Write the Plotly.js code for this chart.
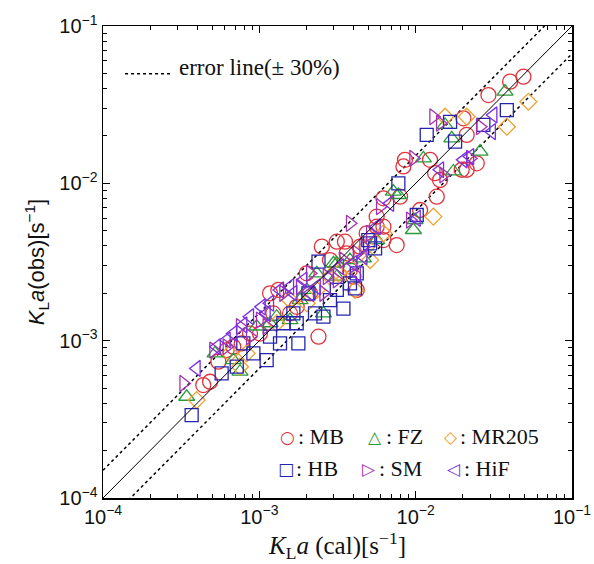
<!DOCTYPE html>
<html>
<head>
<meta charset="utf-8">
<script src="https://cdn.plot.ly/plotly-3.0.1.min.js"></script>
<style>html,body{margin:0;padding:0;background:#fff;}</style>
</head>
<body>
<div id="chart" style="width:594px;height:564px;"></div>
<script>
// ---- data (KLa cal, KLa obs) ----
const mbX = [4.89e-2,4.02e-2,2.92e-2,2.02e-2,2.12e-2,8.55e-3,8.35e-3,1.236e-2,1.331e-2,1.432e-2,2.12e-2,2.46e-2,1.971e-2,6.22e-3,7.95e-3,1.364e-2,1.067e-2,5.63e-3,7.56e-3,2.51e-3,3.13e-3,3.53e-3,4.41e-3,4.20e-3,1.171e-3,1.323e-3,2.39e-3,2.01e-3,6.82e-4,6.18e-4,4.84e-4,4.38e-4,8.72e-4,1.572e-3,3.80e-3,6.22e-3,
  2.83e-3,3.62e-3,4.86e-3,5.63e-3,2.11e-3,1.734e-3,1.01e-3,1.229e-3,4.00e-3,6.22e-3,7.71e-4,5.47e-4];
const mbY = [4.76e-2,4.43e-2,3.64e-2,2.59e-2,2.03e-2,1.41e-2,1.28e-2,1.41e-2,1.16e-2,1.05e-2,1.22e-2,1.34e-2,1.22e-2,8.03e-3,8.23e-3,8.23e-3,6.77e-3,6.14e-3,4.05e-3,3.96e-3,4.26e-3,4.26e-3,3.96e-3,2.10e-3,2.00e-3,2.10e-3,1.06e-3,2.68e-3,9.15e-4,8.72e-4,5.48e-4,5.22e-4,1.11e-3,1.49e-3,2.81e-3,5.30e-3,
  3.25e-3,3.59e-3,4.81e-3,5.30e-3,2.00e-3,1.64e-3,1.11e-3,1.49e-3,2.55e-3,4.36e-3,9.61e-4,7.35e-4];

const fzX = [3.73e-2,1.542e-2,1.701e-2,2.58e-2,1.743e-2,1.121e-2,7.75e-3,7.20e-3,9.67e-3,9.91e-3,3.13e-3,2.98e-3,2.57e-3,9.62e-4,5.21e-4,3.43e-4,7.52e-4,1.572e-3,2.33e-3,4.63e-3,1.171e-3,2.01e-3,
  3.80e-3,1.821e-3,1.291e-3,5.63e-3,6.82e-4,3.13e-3];
const fzY = [3.83e-2,2.35e-2,1.93e-2,1.59e-2,1.19e-2,1.44e-2,8.43e-3,8.85e-3,5.05e-3,5.84e-3,3.10e-3,3.10e-3,1.49e-3,1.23e-3,8.30e-4,4.40e-4,6.35e-4,1.35e-3,2.68e-3,3.33e-3,1.29e-3,2.10e-3,
  3.25e-3,1.81e-3,1.42e-3,4.36e-3,7.53e-4,2.55e-3];

const mrX = [5.26e-2,3.83e-2,1.542e-2,2.12e-2,1.298e-2,5.11e-3,3.20e-3,8.30e-4,7.52e-4,3.97e-4,1.572e-3,4.09e-3,6.22e-3,2.01e-3,3.80e-3,2.83e-3,
  2.33e-3,1.291e-3,4.86e-3,6.49e-4];
const mrY = [3.30e-2,2.29e-2,2.65e-2,2.65e-2,6.14e-3,3.25e-3,2.68e-3,8.30e-4,6.83e-4,4.19e-4,1.81e-3,2.10e-3,4.81e-3,1.73e-3,2.95e-3,2.55e-3,
  2.10e-3,1.29e-3,3.96e-3,8.30e-4];

const hbX = [3.83e-2,2.71e-2,1.660e-2,1.177e-2,1.787e-2,7.75e-3,1.016e-2,4.98e-3,5.50e-3,2.39e-3,4.09e-3,3.45e-3,2.27e-3,2.57e-3,1.734e-3,1.424e-3,1.777e-3,1.114e-3,7.90e-4,7.17e-4,5.74e-4,3.69e-4,1.356e-3,3.80e-3,2.06e-3,
  3.13e-3,1.651e-3,1.171e-3,2.83e-3,5.11e-3,9.16e-4,4.20e-3];
const hbY = [2.92e-2,2.35e-2,2.46e-2,2.03e-2,1.84e-2,1.00e-2,6.29e-3,4.36e-3,3.86e-3,3.18e-3,2.15e-3,1.60e-3,1.49e-3,1.42e-3,1.29e-3,1.29e-3,9.61e-4,7.53e-4,9.61e-4,6.83e-4,6.19e-4,3.36e-4,9.61e-4,2.31e-3,2.00e-3,
  2.10e-3,1.49e-3,1.06e-3,1.81e-3,4.15e-3,8.30e-4,2.68e-3];

const smX = [3.80e-3,1.298e-2,2.23e-2,9.67e-3,9.21e-3,1.505e-2,5.92e-3,3.27e-4,7.52e-4,5.08e-4,1.424e-3,2.70e-3,4.63e-3,1.01e-3,2.58e-2,1.432e-2,1.821e-3,3.13e-3,
  2.11e-3,2.57e-3,3.45e-3,4.20e-3,1.114e-3,5.11e-3,8.72e-4,6.18e-4];
const smY = [5.57e-3,2.65e-2,1.44e-2,1.44e-2,5.84e-3,1.13e-2,7.11e-3,5.35e-4,1.23e-3,8.72e-4,2.00e-3,2.55e-3,3.96e-3,1.35e-3,2.29e-2,2.41e-2,2.20e-3,2.43e-3,
  2.68e-3,2.00e-3,3.25e-3,3.59e-3,1.23e-3,4.81e-3,1.06e-3,9.15e-4];

const hifX = [3.97e-4,7.90e-4,6.18e-4,3.07e-2,3.14e-2,1.035e-3,1.356e-3,1.572e-3,2.83e-3,4.63e-3,6.86e-3,2.23e-2,1.016e-2,2.11e-3,4.20e-3,5.34e-4,1.432e-2,2.02e-2,
  8.72e-4,1.171e-3,1.651e-3,1.913e-3,2.33e-3,3.28e-3,4.00e-3,1.114e-3,6.82e-4,5.63e-3];
const hifY = [6.66e-4,1.26e-3,1.01e-3,2.13e-2,2.72e-2,1.64e-3,2.10e-3,2.20e-3,2.55e-3,3.42e-3,7.46e-3,1.48e-2,5.99e-3,2.00e-3,2.68e-3,9.15e-4,1.22e-2,1.41e-2,
  1.42e-3,1.73e-3,2.00e-3,2.43e-3,2.20e-3,2.95e-3,3.10e-3,1.49e-3,1.11e-3,5.30e-3];

const seriesNames = ["MB","FZ","MR205","HB","SM","HiF"];
const lineRange = [1e-4, 1e-1];
const errHigh = [1.5e-4, 1.5e-1];
const errLow = [1e-4/1.5, 1e-1/1.5];
// tick positions: every 1..9 x decade; labels only at the decades
const tickVals = [1e-4,2e-4,3e-4,4e-4,5e-4,6e-4,7e-4,8e-4,9e-4,1e-3,2e-3,3e-3,4e-3,5e-3,6e-3,7e-3,8e-3,9e-3,1e-2,2e-2,3e-2,4e-2,5e-2,6e-2,7e-2,8e-2,9e-2,1e-1];
const tickText = ["10<sup>−4</sup>","","","","","","","","","10<sup>−3</sup>","","","","","","","","","10<sup>−2</sup>","","","","","","","","","10<sup>−1</sup>"];
const decadeVals = [1e-4,1e-3,1e-2,1e-1];

const styles = {
  MB:   {symbol:"circle-open",        color:"#e0343c", size:15},
  FZ:   {symbol:"triangle-up-open",   color:"#2a9a3a", size:14},
  MR205:{symbol:"diamond-open",       color:"#f0a030", size:13},
  HB:   {symbol:"square-open",        color:"#2424b0", size:13},
  SM:   {symbol:"triangle-right-open",color:"#a034b0", size:14},
  HiF:  {symbol:"triangle-left-open", color:"#7a30e0", size:14}
};
const dataSets = {MB:[mbX,mbY], FZ:[fzX,fzY], MR205:[mrX,mrY], HB:[hbX,hbY], SM:[smX,smY], HiF:[hifX,hifY]};

const traces = [];
// 1:1 line on the overlay axes (same range); those axes carry the longer decade ticks
traces.push({x:lineRange, y:lineRange, xaxis:"x2", yaxis:"y2", mode:"lines", line:{color:"#000", width:1}, hoverinfo:"skip", showlegend:false});
traces.push({x:lineRange, y:errHigh, mode:"lines", line:{color:"#000", width:1.5, dash:"dot"}, hoverinfo:"skip", showlegend:false});
traces.push({x:lineRange, y:errLow, mode:"lines", line:{color:"#000", width:1.5, dash:"dot"}, hoverinfo:"skip", showlegend:false});
seriesNames.forEach(n => {
  const s = styles[n];
  traces.push({x:dataSets[n][0], y:dataSets[n][1], name:n, mode:"markers", showlegend:false,
    marker:{symbol:s.symbol, size:s.size, color:s.color, line:{color:s.color, width:1.3}}});
});

// legend drawn as text in the lower-right corner, as in the reference
const glyph = {MB:"○", FZ:"△", MR205:"◇", HB:"□", SM:"▷", HiF:"◁"};
const glyphPos = {MB:[0.393,0.130], FZ:[0.581,0.130], MR205:[0.742,0.130], HB:[0.391,0.062], SM:[0.567,0.062], HiF:[0.748,0.062]};
const textPos  = {MB:[0.412,0.130], FZ:[0.600,0.130], MR205:[0.756,0.130], HB:[0.408,0.062], SM:[0.584,0.062], HiF:[0.765,0.062]};
const annotations = [];
seriesNames.forEach(n => {
  annotations.push({xref:"paper", yref:"paper", x:glyphPos[n][0], y:glyphPos[n][1], xanchor:"center", yanchor:"middle",
    showarrow:false, text:glyph[n], font:{family:"DejaVu Sans, sans-serif", size:17, color:styles[n].color}});
  annotations.push({xref:"paper", yref:"paper", x:textPos[n][0], y:textPos[n][1], xanchor:"left", yanchor:"middle",
    showarrow:false, text:": "+n, font:{family:"Liberation Serif, Times New Roman, serif", size:22, color:"#111"}});
});
annotations.push({xref:"paper", yref:"paper", x:0.158, y:0.913, xanchor:"left", yanchor:"middle", showarrow:false,
  text:"error line(± 30%)", font:{family:"Liberation Serif, Times New Roman, serif", size:23, color:"#111"}});

const axisCommon = {type:"log", range:[-4,-1], tickmode:"array", tickvals:tickVals, ticktext:tickText,
  ticklabeloverflow:"allow", showgrid:false, zeroline:false,
  showline:true, linecolor:"#000", linewidth:1.5, mirror:"ticks", ticks:"inside", ticklen:4, tickcolor:"#000", tickwidth:1,
  tickfont:{family:"Liberation Sans, Arial, sans-serif", size:20, color:"#111"}};
const decadeAxis = {type:"log", range:[-4,-1], tickmode:"array", tickvals:decadeVals, showticklabels:false,
  showgrid:false, zeroline:false, showline:false, mirror:"ticks", ticks:"inside", ticklen:7, tickcolor:"#000", tickwidth:1.2};

const layout = {
  width:594, height:564,
  margin:{l:103, r:22, t:26, b:66},
  paper_bgcolor:"#fff", plot_bgcolor:"#fff",
  showlegend:false,
  font:{family:"Liberation Sans, Arial, sans-serif", size:19, color:"#111"},
  xaxis:Object.assign({}, axisCommon, {
    title:{text:"<i>K</i><sub>L</sub><i>a</i> (cal)[s<sup>−1</sup>]", standoff:2,
      font:{family:"Liberation Serif, Times New Roman, serif", size:25, color:"#111"}}}),
  yaxis:Object.assign({}, axisCommon, {
    title:{text:"<i>K</i><sub>L</sub><i>a</i>(obs)[s<sup>−1</sup>]", standoff:8,
      font:{family:"Liberation Sans, Arial, sans-serif", size:22, color:"#111"}}}),
  xaxis2:Object.assign({}, decadeAxis, {overlaying:"x", side:"bottom", anchor:"y2"}),
  yaxis2:Object.assign({}, decadeAxis, {overlaying:"y", side:"left", anchor:"x2"}),
  shapes:[{type:"line", xref:"paper", yref:"paper", x0:0.047, x1:0.143, y0:0.899, y1:0.899,
    line:{color:"#000", width:1.5, dash:"dot"}}],
  annotations:annotations
};

Plotly.newPlot("chart", traces, layout, {displayModeBar:false, staticPlot:true});
</script>
</body>
</html>
